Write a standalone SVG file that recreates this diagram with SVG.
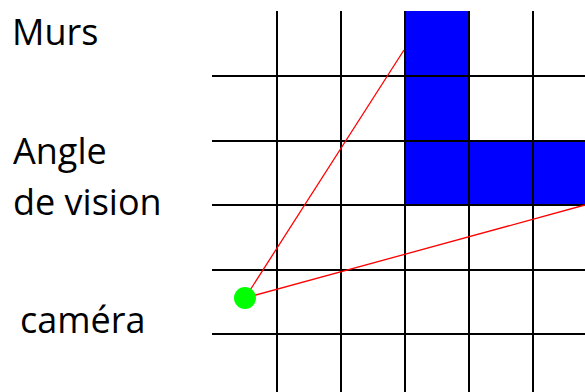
<svg xmlns="http://www.w3.org/2000/svg" width="585" height="392" viewBox="0 0 585 392">
<style>
.lbl{font-family:"Open Sans","Noto Sans",sans-serif;font-size:36px;fill:#000}
.grid line{stroke:#000;stroke-width:2}
.wall{fill:#0000ff}
.ray{stroke:#ff0000;stroke-width:1.3;fill:none}
</style>
<rect width="585" height="392" fill="#fff"/>
<g id="walls">
<rect class="wall" x="405" y="11" width="64" height="194"/>
<rect class="wall" x="405" y="141" width="180" height="64"/>
</g>
<g id="grid" class="grid">
<line x1="277" y1="11" x2="277" y2="392"/>
<line x1="341" y1="11" x2="341" y2="392"/>
<line x1="405" y1="11" x2="405" y2="392"/>
<line x1="469" y1="11" x2="469" y2="392"/>
<line x1="533" y1="11" x2="533" y2="392"/>
<line x1="212" y1="76" x2="585" y2="76"/>
<line x1="212" y1="141" x2="585" y2="141"/>
<line x1="212" y1="205" x2="585" y2="205"/>
<line x1="212" y1="270" x2="585" y2="270"/>
<line x1="212" y1="334" x2="585" y2="334"/>
</g>
<g id="connectors">
<line class="ray" x1="245" y1="298" x2="404" y2="50"/>
<line class="ray" x1="245" y1="298" x2="585" y2="205"/>
</g>
<g id="camera">
<circle cx="245" cy="298" r="11" fill="#00ff00"/>
</g>
<g id="labels">
<text class="lbl" x="12" y="45">Murs</text>
<text class="lbl" x="13" y="164">Angle</text>
<text class="lbl" x="13" y="215">de vision</text>
<text class="lbl" x="20" y="333">caméra</text>
</g>
</svg>
